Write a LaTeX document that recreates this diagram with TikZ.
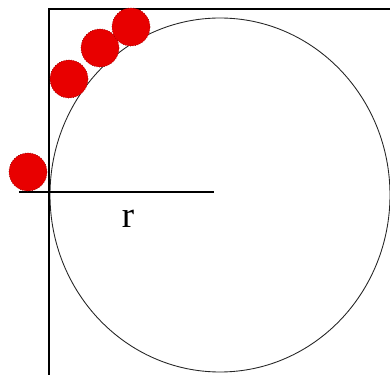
\documentclass[tikz,border=0pt]{standalone}
\usepackage{fontspec}
\setmainfont{Liberation Serif}
\usepackage{tikz}
\usetikzlibrary{positioning, calc}
\definecolor{rojoBola}{HTML}{E80000}
\definecolor{bordeBola}{HTML}{900000}

\begin{document}
\begin{tikzpicture}[x=0.02cm, y=-0.02cm,
        bola/.style={circle, draw=bordeBola, densely dotted, fill=rojoBola, minimum size=0.76cm, inner sep=0pt},
        marco/.style={line width=0.8pt, black},
        borde/.style={line width=0.5pt, black!85}]
        \useasboundingbox (0,0) rectangle (390,375);
        \coordinate (c) at (220,195);
        \coordinate (esq) at (49,9);
        \coordinate (abajo) at (49,375);
        \coordinate (der) at (390,9);
        \coordinate (ini) at (19,192);
        \coordinate (fin) at (214,192);
        \draw[borde] (c) ellipse [x radius=170, y radius=177];
        \draw[marco] (abajo) -- (esq) -- (der);
        \draw[marco] (ini) -- (fin);
        \node[font=\fontsize{21}{21}\selectfont] (r) at (128,219) {r};
        \node[bola] (b1) at (28,172)  {};
        \node[bola] (b2) at (69,79)   {};
        \node[bola] (b3) at (100,48)  {};
        \node[bola] (b4) at (131,27)  {};
    \end{tikzpicture}
\end{document}
